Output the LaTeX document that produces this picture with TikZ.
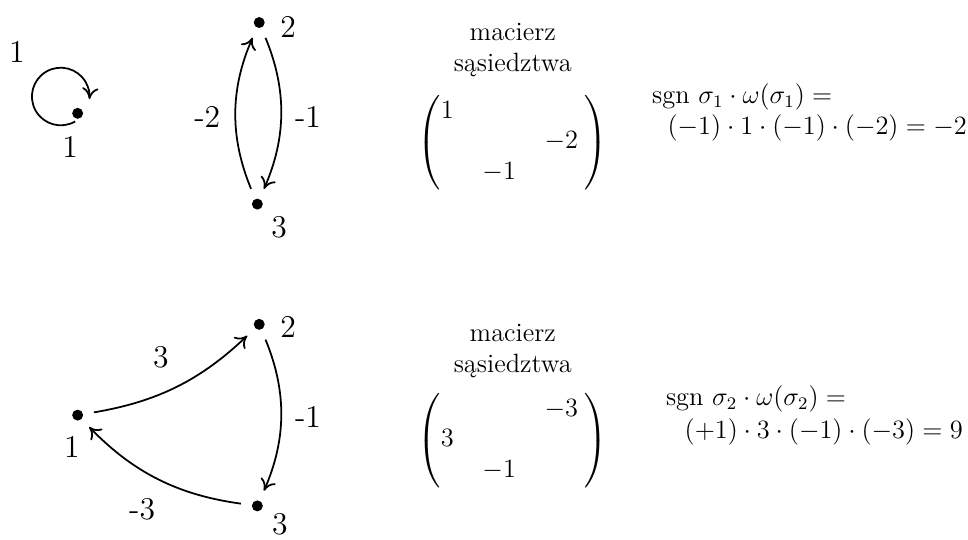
\documentclass[tikz,border=0pt]{standalone}
\usepackage{amsmath}
\usepackage{tikz}
\usetikzlibrary{arrows.meta,positioning,calc}
\tikzset{
  dot/.style={circle, fill=black, inner sep=0pt, minimum size=0.175cm},
  arr/.style={-{To[length=1.8mm, width=2.6mm]}, thick, shorten <=0.17cm, shorten >=0.17cm},
  lbl/.style={font=\Large, inner sep=1pt},
  capt/.style={align=center, font=\large},
  mat/.style={font=\large},
  sgn/.style={anchor=west, align=left, font=\large, inner sep=0pt},
}
\begin{document}
\begin{tikzpicture}[x=1cm,y=1cm]
  \useasboundingbox (0,0) rectangle (15.46,8.61);
  % permutacja sigma_1
  \node[dot] (p1) at (1.24,6.80) {};
  \node[dot] (p2) at (4.14,8.25) {};
  \node[dot] (p3) at (4.11,5.35) {};
  \node[lbl] (p1l) at (1.12,6.26) {1};
  \node[lbl] (p2l) at (4.60,8.18) {2};
  \node[lbl] (p3l) at (4.46,4.98) {3};
  \draw[-{To[length=1.8mm, width=2.6mm]}, thick] ([shift={(-0.04,-0.13)}]p1.center) arc[start angle=-60, end angle=-365, radius=0.46cm];
  \draw[arr] (p3) to[bend left=23] (p2);
  \draw[arr] (p2) to[bend left=23] (p3);
  \node[lbl] (w11) at (0.27,7.78) {1};
  \node[lbl] (w32) at (3.31,6.74) {-2};
  \node[lbl] (w23) at (4.92,6.74) {-1};
  \node[capt] (c1) at (8.19,7.81) {macierz\\sąsiedztwa};
  \node[mat] (m1) at (8.19,6.33) {\setlength\arraycolsep{6.5pt}$\begin{pmatrix} 1 & & \\ & & -2\hspace{3pt} \\ & -1 & \end{pmatrix}$};
  \node[sgn] (s1) at (10.41,6.81) {$\mathrm{sgn}\ \sigma_1 \cdot \omega(\sigma_1) =$\\[0pt]\hspace*{7pt}$(-1) \cdot 1 \cdot (-1) \cdot (-2) = -2$};
  % permutacja sigma_2
  \node[dot] (q1) at (1.24,1.98) {};
  \node[dot] (q2) at (4.14,3.43) {};
  \node[dot] (q3) at (4.11,0.53) {};
  \node[lbl] (q1l) at (1.15,1.47) {1};
  \node[lbl] (q2l) at (4.60,3.39) {2};
  \node[lbl] (q3l) at (4.47,0.24) {3};
  \draw[arr] (q1) to[bend right=17] (q2);
  \draw[arr] (q2) to[bend left=23] (q3);
  \draw[arr] (q3) to[bend left=19] (q1);
  \node[lbl] (v12) at (2.57,2.91) {3};
  \node[lbl] (v23) at (4.92,1.95) {-1};
  \node[lbl] (v31) at (2.27,0.48) {-3};
  \node[capt] (c2) at (8.19,3.00) {macierz\\sąsiedztwa};
  \node[mat] (m2) at (8.19,1.57) {\setlength\arraycolsep{6.5pt}$\begin{pmatrix} & & -3\hspace{3pt} \\ 3 & & \\ & -1 & \end{pmatrix}$};
  \node[sgn] (s2) at (10.63,1.98) {$\mathrm{sgn}\ \sigma_2 \cdot \omega(\sigma_2) =$\\[0.8pt]\hspace*{8.5pt}$(+1) \cdot 3 \cdot (-1) \cdot (-3) = 9$};
\end{tikzpicture}
\end{document}
